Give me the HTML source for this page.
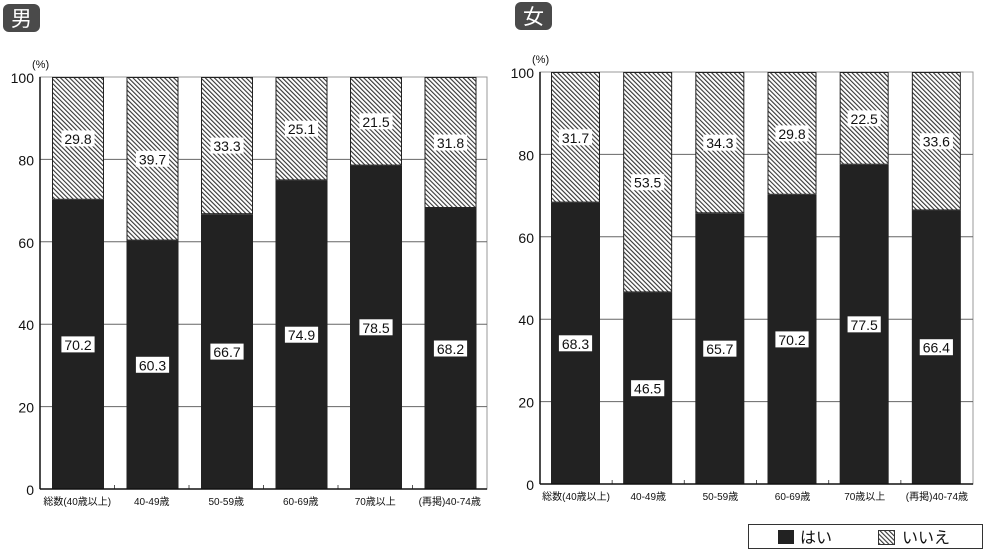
<!DOCTYPE html>
<html><head><meta charset="utf-8"><style>
body{margin:0;background:#fff;width:984px;height:551px;overflow:hidden;font-family:"Liberation Sans","Noto Sans CJK JP",sans-serif}
svg{position:absolute;left:0;top:0}
</style></head><body>
<svg id="c" width="984" height="551">
<defs>
<pattern id="h" patternUnits="userSpaceOnUse" width="3.2" height="4" patternTransform="rotate(-45)">
<rect width="3.2" height="4" fill="#fff"/><rect x="0" y="0" width="1.1" height="4" fill="#333"/>
</pattern>
</defs>
</svg>
<script>
const categories=["総数(40歳以上)","40-49歳","50-59歳","60-69歳","70歳以上","(再掲)40-74歳"];
const maleYes=[70.2,60.3,66.7,74.9,78.5,68.2];
const maleNo=[29.8,39.7,33.3,25.1,21.5,31.8];
const femaleYes=[68.3,46.5,65.7,70.2,77.5,66.4];
const femaleNo=[31.7,53.5,34.3,29.8,22.5,33.6];
const yTicks=[0,20,40,60,80,100];
const NS="http://www.w3.org/2000/svg";
const svg=document.getElementById('c');
function mk(t,a,p){const e=document.createElementNS(NS,t);for(const k in a)e.setAttribute(k,a[k]);(p||svg).appendChild(e);return e;}
function chart(name,x0,x1,yTop,yBot,barOff,barW,yes,no,badgeX,badgeY){
  const g=mk('g',{});
  
  
  const y=v=>yBot-(yBot-yTop)*v/100;
  const cw=(x1-x0)/categories.length;
  const b=mk('rect',{x:badgeX,y:badgeY,width:37,height:28,rx:6,fill:'#4a4a4a'},g);
  
  const bt=mk('text',{x:badgeX+18.5,y:badgeY+22,'text-anchor':'middle','font-size':21,fill:'#fff'},g);
  bt.textContent=name==='male'?'男':'女';
  
  mk('rect',{x:x0,y:yTop,width:x1-x0,height:yBot-yTop,fill:'none',stroke:'#999','stroke-width':1},g);
  yTicks.forEach(t=>{
    if(t>0&&t<100){const l=mk('line',{x1:x0,x2:x1,y1:y(t),y2:y(t),stroke:'#666','stroke-width':1},g);
      }
    const tx=mk('text',{x:x0-6,y:y(t)+6,'text-anchor':'end','font-size':14,fill:'#111'},g);
    tx.textContent=t;
    
  });
  const pc=mk('text',{x:x0-8,y:yTop-9,'font-size':11,fill:'#111'},g);pc.textContent='(%)';
  
  categories.forEach((c,i)=>{
    const bx=x0+cw*i+barOff;
    const r1=mk('rect',{x:bx,y:y(yes[i]),width:barW,height:yBot-y(yes[i]),fill:'#222'},g);
    
    const r2=mk('rect',{x:bx+0.5,y:y(yes[i]+no[i])+0.5,width:barW-1,height:y(yes[i])-y(yes[i]+no[i])-1,fill:'url(#h)',stroke:'#222','stroke-width':1},g);
    
    [[yes[i],y(yes[i]/2)],[no[i],y(yes[i]+no[i]/2)]].forEach(([v,cy])=>{
      const s=v.toFixed(1);
      const w=s.length*7.8+2;
      mk('rect',{x:bx+barW/2-w/2,y:cy-8,width:w,height:16,fill:'#fff'},g);
      const t=mk('text',{x:bx+barW/2,y:cy+5.5,'text-anchor':'middle','font-size':14,fill:'#111'},g);
      t.textContent=s;
    });
    if(i>0){mk('line',{x1:x0+cw*i,x2:x0+cw*i,y1:yBot-4,y2:yBot,stroke:'#555'},g);}
    const cl=mk('text',{x:x0+cw*i+cw/2,y:yBot+16,'text-anchor':'middle','font-size':10,fill:'#111'},g);
    cl.textContent=c;
  });
  mk('line',{x1:x0,x2:x0,y1:yTop,y2:yBot,stroke:'#111','stroke-width':1.5},g);
  mk('line',{x1:x0,x2:x1,y1:yBot,y2:yBot,stroke:'#111','stroke-width':1.5},g);
}
chart('male',40,487,77,489,12,52,maleYes,maleNo,3,4);
chart('female',540,973,72,484,11,49,femaleYes,femaleNo,515,2);
const lg=mk('g',{});


mk('rect',{x:748.5,y:524.5,width:234,height:24,fill:'#fff',stroke:'#333'},lg);
const l1=mk('rect',{x:778,y:530,width:16,height:14,fill:'#222'},lg);

const t1=mk('text',{x:800,y:543,'font-size':16,fill:'#111'},lg);t1.textContent='はい';

const l2=mk('rect',{x:878.5,y:530.5,width:16,height:14,fill:'url(#h)',stroke:'#333'},lg);

const t2=mk('text',{x:902,y:543,'font-size':16,fill:'#111'},lg);t2.textContent='いいえ';

</script>
</body></html>
